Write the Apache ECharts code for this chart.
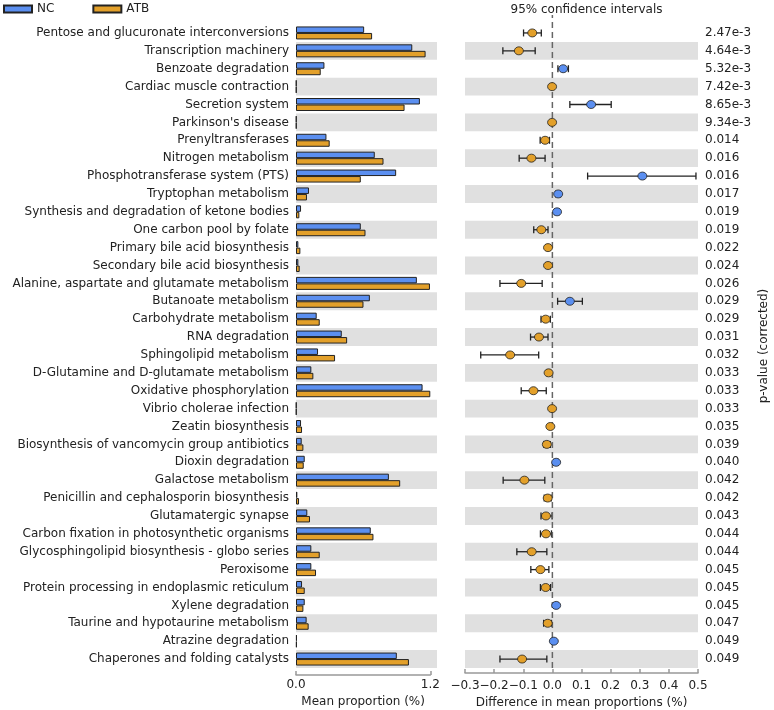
<!DOCTYPE html>
<html>
<head>
<meta charset="utf-8">
<script src="https://cdn.jsdelivr.net/npm/echarts@6/dist/echarts.min.js"></script>
<style>html,body{margin:0;padding:0;background:#fff}#c{width:774px;height:710px}</style>
</head>
<body>
<div id="c"></div>
<script>
const categories = [
  "Pentose and glucuronate interconversions","Transcription machinery","Benzoate degradation",
  "Cardiac muscle contraction","Secretion system","Parkinson's disease","Prenyltransferases",
  "Nitrogen metabolism","Phosphotransferase system (PTS)","Tryptophan metabolism",
  "Synthesis and degradation of ketone bodies","One carbon pool by folate",
  "Primary bile acid biosynthesis","Secondary bile acid biosynthesis",
  "Alanine, aspartate and glutamate metabolism","Butanoate metabolism","Carbohydrate metabolism",
  "RNA degradation","Sphingolipid metabolism","D-Glutamine and D-glutamate metabolism",
  "Oxidative phosphorylation","Vibrio cholerae infection","Zeatin biosynthesis",
  "Biosynthesis of vancomycin group antibiotics","Dioxin degradation","Galactose metabolism",
  "Penicillin and cephalosporin biosynthesis","Glutamatergic synapse",
  "Carbon fixation in photosynthetic organisms","Glycosphingolipid biosynthesis - globo series",
  "Peroxisome","Protein processing in endoplasmic reticulum","Xylene degradation",
  "Taurine and hypotaurine metabolism","Atrazine degradation","Chaperones and folding catalysts"
];
const ncMean = [0.609,1.039,0.254,0.004,1.107,0.004,0.272,0.704,0.895,0.116,0.045,0.579,0.021,0.021,1.080,0.660,0.185,0.409,0.197,0.137,1.131,0.004,0.045,0.051,0.078,0.830,0.012,0.101,0.668,0.137,0.137,0.054,0.078,0.095,0.008,0.901];
const atbMean = [0.680,1.158,0.221,0.004,0.970,0.004,0.301,0.782,0.579,0.098,0.030,0.621,0.039,0.033,1.197,0.603,0.212,0.457,0.349,0.155,1.200,0.004,0.054,0.066,0.069,0.931,0.027,0.125,0.692,0.212,0.179,0.078,0.066,0.113,0.007,1.009];
const diffMean = [-0.069,-0.115,0.037,-0.001,0.133,-0.001,-0.025,-0.072,0.309,0.020,0.016,-0.038,-0.015,-0.015,-0.107,0.060,-0.023,-0.046,-0.145,-0.013,-0.065,-0.001,-0.007,-0.019,0.013,-0.096,-0.016,-0.022,-0.022,-0.071,-0.041,-0.023,0.013,-0.016,0.005,-0.104];
const ciLow = [-0.099,-0.170,0.019,-0.004,0.060,-0.004,-0.042,-0.114,0.121,0.012,0.009,-0.064,-0.022,-0.022,-0.180,0.018,-0.039,-0.075,-0.246,-0.020,-0.107,-0.003,-0.013,-0.030,0.006,-0.169,-0.028,-0.039,-0.041,-0.122,-0.074,-0.041,0.006,-0.030,0.002,-0.180];
const ciHigh = [-0.038,-0.059,0.055,0.002,0.202,0.002,-0.010,-0.025,0.493,0.028,0.023,-0.015,-0.008,-0.008,-0.035,0.103,-0.007,-0.015,-0.047,-0.006,-0.021,0.001,-0.001,-0.007,0.020,-0.026,-0.004,-0.001,-0.003,-0.019,-0.012,-0.006,0.020,-0.003,0.008,-0.019];
const pValues = ["2.47e-3","4.64e-3","5.32e-3","7.42e-3","8.65e-3","9.34e-3","0.014","0.016","0.016","0.017","0.019","0.019","0.022","0.024","0.026","0.029","0.029","0.031","0.032","0.033","0.033","0.033","0.035","0.039","0.040","0.042","0.042","0.043","0.044","0.044","0.045","0.045","0.045","0.047","0.049","0.049"];
const leftTicks = [0, 1.2];
const diffRange = [-0.3, 0.5];
const zeroLine = [[0, 0], [0, 1]];

const BLUE = '#5b8ff0', ORANGE = '#e3a02a', BAND = '#e0e0e0', EDGE = '#222', FONT = 'DejaVu Sans';
const TOP = 24, H = 644;
const LEFT_X = 296, LEFT_W = 141, LEFT_MAX = 1.26;
const RIGHT_X = 465, RIGHT_W = 233;

const chart = echarts.init(document.getElementById('c'), null, {renderer: 'canvas'});
const bandArea = {show: true, interval: 0, areaStyle: {color: ['rgba(0,0,0,0)', BAND]}};
const fmtMinus = v => (Math.abs(v) < 1e-9 ? '0.0' : v.toFixed(1).replace('-', '\u2212'));
const axLine = {show: true, onZero: false, lineStyle: {color: '#999', width: 1.5}};
const axTick = {show: true, inside: true, length: 4, lineStyle: {color: '#999', width: 1.5}};
const nameStyle = {fontSize: 12, color: '#222', fontFamily: FONT};
const g = o => Object.assign({containLabel: false, outerBoundsMode: 'none'}, o);

chart.setOption({
  animation: false,
  textStyle: {fontFamily: FONT, color: '#222'},
  title: {text: '95% confidence intervals', left: RIGHT_X + RIGHT_W / 2, textAlign: 'center', top: -1,
    textStyle: {fontFamily: FONT, fontSize: 12, fontWeight: 'normal', color: '#222'}},
  legend: {data: ['NC', 'ATB'], left: 3, top: 3, padding: 0, icon: 'rect', itemWidth: 28, itemHeight: 7,
    itemGap: 38, textStyle: {fontFamily: FONT, fontSize: 12, color: '#222'}},
  grid: [
    g({left: LEFT_X, top: TOP, width: LEFT_W, height: H}),
    g({left: RIGHT_X, top: TOP, width: RIGHT_W, height: H}),
    g({left: RIGHT_X, top: 15, width: RIGHT_W, height: TOP + H - 15}),
    g({left: LEFT_X, top: TOP, width: LEFT_W * leftTicks[1] / LEFT_MAX, height: H + 7}),
    g({left: RIGHT_X, top: TOP, width: RIGHT_W, height: H + 5})
  ],
  xAxis: [
    {gridIndex: 0, type: 'value', min: 0, max: LEFT_MAX, show: false},
    {gridIndex: 1, type: 'value', min: diffRange[0], max: diffRange[1], show: false},
    {gridIndex: 2, type: 'value', min: diffRange[0], max: diffRange[1], show: false},
    {gridIndex: 3, type: 'value', min: leftTicks[0], max: leftTicks[1], interval: 1.2,
      axisLine: axLine, axisTick: axTick, splitLine: {show: false},
      axisLabel: {formatter: v => v.toFixed(1), fontSize: 12, color: '#222', margin: 4},
      name: 'Mean proportion (%)', nameLocation: 'middle', nameGap: 21, nameTextStyle: nameStyle},
    {gridIndex: 4, type: 'value', min: diffRange[0], max: diffRange[1], interval: 0.1,
      axisLine: axLine, axisTick: axTick, splitLine: {show: false},
      axisLabel: {formatter: fmtMinus, fontSize: 12, color: '#222', margin: 7},
      name: 'Difference in mean proportions (%)', nameLocation: 'middle', nameGap: 23, nameTextStyle: nameStyle}
  ],
  yAxis: [
    {gridIndex: 0, type: 'category', data: categories, inverse: true, axisLine: {show: false}, axisTick: {show: false},
      axisLabel: {interval: 0, fontSize: 12, color: '#222', margin: 7}, splitArea: bandArea},
    {gridIndex: 1, type: 'category', data: categories, inverse: true, axisLine: {show: false}, axisTick: {show: false},
      axisLabel: {show: false}, splitArea: bandArea},
    {gridIndex: 1, type: 'category', data: categories, inverse: true, position: 'right', axisLine: {show: false},
      axisTick: {show: false}, axisLabel: {interval: 0, fontSize: 12, color: '#222', margin: 7, formatter: (v, i) => pValues[i]},
      name: 'p-value (corrected)', nameLocation: 'middle', nameRotate: 90, nameGap: 60, nameTextStyle: nameStyle},
    {gridIndex: 2, type: 'value', min: 0, max: 1, show: false},
    {gridIndex: 3, type: 'value', min: 0, max: 1, show: false},
    {gridIndex: 4, type: 'value', min: 0, max: 1, show: false}
  ],
  series: [
    {name: 'NC', type: 'bar', xAxisIndex: 0, yAxisIndex: 0, data: ncMean, barWidth: 6.5, barGap: '0%',
      itemStyle: {color: BLUE, borderColor: EDGE, borderWidth: 1}},
    {name: 'ATB', type: 'bar', xAxisIndex: 0, yAxisIndex: 0, data: atbMean, barWidth: 6.5, barGap: '0%',
      itemStyle: {color: ORANGE, borderColor: EDGE, borderWidth: 1}},
    {type: 'line', xAxisIndex: 2, yAxisIndex: 3, data: zeroLine, symbol: 'none', silent: true,
      lineStyle: {color: '#666', width: 1.5, type: [6, 4]}},
    {type: 'custom', xAxisIndex: 1, yAxisIndex: 1,
      data: ciLow.map((lo, i) => [lo, ciHigh[i], i]),
      encode: {x: [0, 1], y: 2},
      renderItem: (params, api) => {
        const a = api.coord([api.value(0), api.value(2)]);
        const b = api.coord([api.value(1), api.value(2)]);
        const h = 3.5, st = {stroke: '#222', lineWidth: 1.3};
        return {type: 'group', children: [
          {type: 'line', shape: {x1: a[0], y1: a[1], x2: b[0], y2: b[1]}, style: st},
          {type: 'line', shape: {x1: a[0], y1: a[1] - h, x2: a[0], y2: a[1] + h}, style: st},
          {type: 'line', shape: {x1: b[0], y1: b[1] - h, x2: b[0], y2: b[1] + h}, style: st}
        ]};
      }},
    {type: 'scatter', xAxisIndex: 1, yAxisIndex: 1, data: diffMean.map((d, i) => [d, i]),
      symbol: 'circle', symbolSize: [9, 8], z: 5,
      itemStyle: {color: p => (p.value[0] > 0 ? BLUE : ORANGE), borderColor: '#222', borderWidth: 0.8, opacity: 1}}
  ]
});
</script>
</body>
</html>
